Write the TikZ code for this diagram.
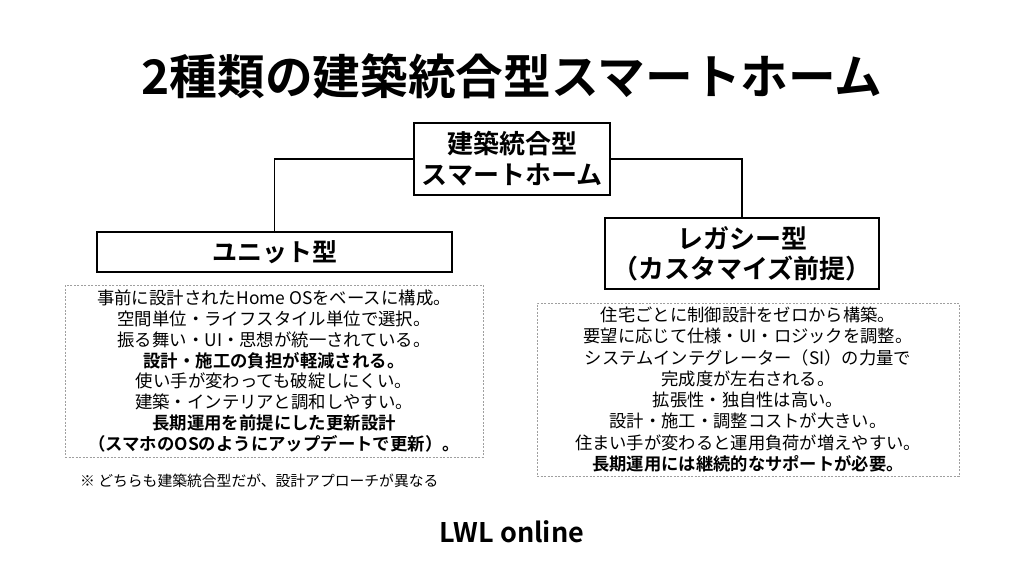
\documentclass[tikz,border=0pt]{standalone}
\usepackage{fontspec}
\setmainfont{Noto Sans CJK JP}[BoldFont={Noto Sans CJK JP Bold}]
\begin{document}
\begin{tikzpicture}[x=1pt,y=-1pt,
  hbox/.style={draw=black, line width=1.8pt, fill=white, inner sep=0pt, align=center, font=\bfseries\fontsize{26}{31}\selectfont},
  dbox/.style={draw=gray!75, dash pattern=on 2pt off 1.5pt, line width=0.8pt, inner sep=0pt, align=center},
  conn/.style={line width=1.8pt, draw=black}]
\fill[white] (0,0) rectangle (1024,576);
\useasboundingbox (0,0) rectangle (1024,576);
\node[font=\bfseries\fontsize{47.7}{48}\selectfont] (title) at (512,76) {2種類の建築統合型スマートホーム};
\node[hbox, minimum width=196pt, minimum height=72pt] (top) at (512,159) {建築統合型\\スマートホーム};
\node[hbox, minimum width=355pt, minimum height=40pt, font=\bfseries\fontsize{25}{30}\selectfont] (unit) at (274.5,252) {ユニット型};
\node[hbox, minimum width=274pt, minimum height=71pt, font=\bfseries\fontsize{26}{30}\selectfont] (legacy) at (742,253.5) {レガシー型\\（カスタマイズ前提）};
\draw[conn] (top.west) -| (unit.north);
\draw[conn] (top.east) -| (legacy.north);
\node[dbox, minimum width=418pt, minimum height=172pt, font=\fontsize{17.4}{20.8}\selectfont] (ltext) at (274,371) {事前に設計されたHome OSをベースに構成。\\空間単位・ライフスタイル単位で選択。\\振る舞い・UI・思想が統一されている。\\\textbf{設計・施工の負担が軽減される。}\\使い手が変わっても破綻しにくい。\\建築・インテリアと調和しやすい。\\\textbf{長期運用を前提にした更新設計}\\\textbf{（スマホのOSのようにアップデートで更新）。}};
\node[dbox, minimum width=422pt, minimum height=173pt, font=\fontsize{17.3}{21.3}\selectfont] (rtext) at (748,389.5) {住宅ごとに制御設計をゼロから構築。\\要望に応じて仕様・UI・ロジックを調整。\\システムインテグレーター（SI）の力量で\\完成度が左右される。\\拡張性・独自性は高い。\\設計・施工・調整コストが大きい。\\住まい手が変わると運用負荷が増えやすい。\\\textbf{長期運用には継続的なサポートが必要。}};
\node[anchor=west, inner sep=0pt, font=\fontsize{14.8}{15}\selectfont] (note) at (80,481) {※ どちらも建築統合型だが、設計アプローチが異なる};
\node[font=\bfseries\fontsize{27}{27}\selectfont] (lwl) at (512,532) {LWL online};
\end{tikzpicture}
\end{document}
